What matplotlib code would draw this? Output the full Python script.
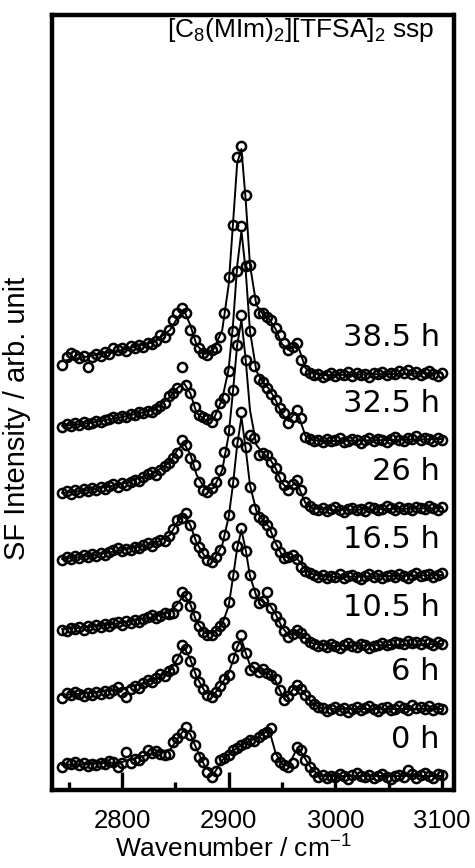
import numpy as np
import matplotlib
matplotlib.use("Agg")
import matplotlib.pyplot as plt
from matplotlib.ticker import MultipleLocator

plt.rcParams["font.family"] = ["Liberation Sans", "DejaVu Sans"]
plt.rcParams["mathtext.fontset"] = "custom"
plt.rcParams["mathtext.rm"] = "Liberation Sans"
plt.rcParams["mathtext.it"] = "Liberation Sans:italic"

# measured points, one every 4 cm-1 from 2744 to 3100
wavenumber = np.arange(2744, 3101, 4)

labels = ["0 h", "6 h", "10.5 h", "16.5 h", "26 h", "32.5 h", "38.5 h"]
offsets = [13, 81, 144, 213, 280, 349, 415]

sig_0h = [10, 14, 13, 15, 12, 14, 11, 13, 12, 14,
          13, 16, 15, 10, 14, 25, 14, 18, 17, 21,
          27, 24, 26, 23, 22, 23, 35, 39, 44, 50,
          42, 32, 20, 15, 5, 0, 6, 17, 19, 22,
          27, 29, 32, 34, 37, 36, 40, 43, 45, 49,
          20, 15, 12, 10, 14, 30, 27, 17, 10, 5,
          0, 2, -1, 1, 0, 3, 1, -2, 2, 4,
          1, 0, 2, -1, 1, 3, 0, -2, 1, 2,
          0, 7, 3, -1, 2, 4, 1, -1, 3, 2]
sig_6h = [11, 16, 14, 17, 15, 13, 16, 14, 17, 15,
          18, 16, 19, 22, 17, 12, 20, 23, 21, 26,
          29, 27, 31, 35, 33, 38, 40, 50, 64, 60,
          48, 36, 27, 20, 14, 12, 17, 23, 30, 34,
          51, 63, 74, 56, 39, 42, 37, 40, 36, 34,
          30, 19, 9, 13, 19, 24, 20, 14, 9, 5,
          2, 1, -2, 0, 2, -1, 1, -3, 0, 2,
          -1, 1, 3, 0, -2, 1, 2, -1, 0, 3,
          1, -1, 4, 1, 2, 0, 3, -1, 1, 0]
sig_10h = [16, 15, 18, 17, 19, 16, 20, 18, 21, 19,
           22, 20, 23, 24, 21, 25, 23, 26, 24, 27,
           29, 31, 28, 30, 33, 32, 33, 40, 54, 50,
           40, 30, 20, 14, 11, 11, 15, 20, 24, 44,
           71, 100, 118, 95, 71, 53, 43, 45, 54, 38,
           30, 24, 15, 9, 12, 16, 13, 8, 4, 2,
           0, 1, -1, 2, 0, -2, 1, 3, 0, -1,
           2, 1, -2, 0, 1, 3, 1, 2, 4, 3,
           2, 5, 3, 4, 2, 5, 3, 1, 4, 2]
sig_16h = [17, 20, 18, 21, 19, 22, 20, 23, 21, 24,
           22, 25, 27, 29, 26, 28, 27, 30, 29, 32,
           34, 31, 35, 37, 36, 41, 48, 57, 59, 64,
           52, 38, 30, 24, 17, 15, 20, 27, 42, 62,
           95, 135, 165, 130, 90, 68, 60, 57, 52, 45,
           32, 25, 19, 20, 22, 18, 10, 6, 4, 2,
           0, 2, -1, 1, 0, 3, -1, 1, 2, 0,
           -2, 1, 3, 0, 2, -1, 1, 2, 0, 3,
           1, -1, 2, 4, 1, 2, 3, 0, 2, 4]
sig_26h = [17, 19, 16, 20, 18, 21, 19, 22, 20, 23,
           21, 24, 26, 23, 27, 25, 28, 30, 29, 33,
           36, 38, 35, 40, 44, 47, 52, 57, 70, 65,
           52, 45, 28, 20, 18, 22, 28, 40, 58, 80,
           120, 165, 195, 150, 75, 72, 55, 57, 55, 48,
           42, 33, 25, 20, 26, 30, 20, 8, 4, 1,
           0, 2, -1, 1, 3, 0, -2, 1, 2, 0,
           1, -1, 3, 2, 0, 1, 4, 2, 0, 3,
           1, 2, 0, 3, 2, 1, 4, 2, 0, 3]
sig_32h = [14, 17, 15, 18, 16, 19, 17, 18, 20, 19,
           21, 22, 24, 23, 25, 24, 27, 26, 29, 28,
           30, 29, 32, 35, 38, 45, 48, 53, 74, 56,
           48, 34, 26, 24, 22, 19, 26, 38, 43, 70,
           110, 170, 215, 175, 110, 75, 62, 59, 53, 47,
           41, 33, 28, 18, 24, 31, 23, 4, 2, 0,
           1, -1, 2, 0, 1, 3, -1, 0, 2, 1,
           -2, 1, 3, 0, 2, 1, -1, 2, 4, 1,
           0, 3, 2, 5, 1, 3, 2, 0, 3, 1]
sig_38h = [10, 18, 22, 20, 17, 19, 8, 18, 21, 19,
           23, 21, 27, 25, 27, 24, 29, 27, 30, 28,
           32, 31, 34, 40, 38, 45, 55, 62, 67, 62,
           45, 35, 27, 22, 20, 25, 27, 38, 62, 98,
           150, 218, 229, 180, 110, 75, 62, 62, 58, 55,
           47, 40, 32, 25, 28, 32, 15, 5, 2, 0,
           1, -2, 0, 2, -1, 1, 0, 3, -1, 2,
           0, 1, -2, 2, 1, 3, 0, 2, 1, 4,
           2, 5, 1, 3, 0, 2, 4, 1, -1, 2]

# fitted curves
fit_x = [2744, 2770, 2800, 2830, 2845, 2852, 2858, 2864, 2870, 2878, 2886,
         2894, 2900, 2904, 2908, 2912, 2916, 2920, 2926, 2932, 2938, 2944,
         2950, 2956, 2962, 2966, 2972, 2978, 2986, 3000, 3050, 3100]
fit_0h = [12, 13, 15, 24, 27, 38, 47, 43, 28, 10, 3,
          17, 22, 26, 29, 32, 34, 36, 39, 43, 47, 24,
          13, 11, 24, 28, 18, 8, 1, 1, 1, 1]
fit_6h = [14, 16, 20, 29, 38, 50, 62, 50, 32, 17, 14,
          26, 36, 48, 62, 70, 56, 44, 39, 38, 35, 28,
          14, 14, 22, 22, 14, 6, 1, 0, 0, 0]
fit_10h = [17, 19, 23, 29, 34, 42, 51, 42, 24, 13, 13,
           22, 40, 68, 98, 116, 96, 70, 50, 44, 42, 32,
           19, 11, 14, 14, 8, 3, 1, 0, 1, 2]
fit_16h = [18, 21, 27, 33, 42, 55, 63, 52, 34, 20, 17,
           32, 60, 92, 132, 160, 128, 92, 66, 57, 50, 34,
           22, 19, 21, 16, 7, 3, 1, 0, 1, 2]
fit_26h = [17, 20, 26, 37, 48, 60, 67, 56, 35, 21, 22,
           40, 75, 118, 165, 190, 150, 100, 65, 57, 52, 42,
           27, 21, 27, 22, 7, 2, 1, 0, 1, 2]
fit_32h = [15, 18, 24, 31, 44, 53, 58, 48, 28, 21, 22,
           42, 72, 115, 175, 210, 170, 110, 70, 59, 52, 41,
           27, 20, 28, 24, 5, 1, 0, 0, 1, 2]
fit_38h = [14, 19, 25, 33, 45, 57, 65, 50, 30, 21, 26,
           45, 90, 150, 212, 226, 175, 110, 70, 61, 56, 46,
           31, 25, 30, 26, 7, 2, 0, 0, 1, 2]

signals = [sig_0h, sig_6h, sig_10h, sig_16h, sig_26h, sig_32h, sig_38h]
fits = [fit_0h, fit_6h, fit_10h, fit_16h, fit_26h, fit_32h, fit_38h]

fig = plt.figure(figsize=(4.75, 8.68), dpi=100)
ax = fig.add_axes([52 / 475, 78 / 868, 401.5 / 475, 775.5 / 868])

for lab, off, sig, fit in zip(labels, offsets, signals, fits):
    ax.plot(fit_x, np.array(fit) + off, color="black", lw=1.4, zorder=2)
    ax.plot(wavenumber, np.array(sig) + off, "o", mfc="none", mec="black",
            ms=6.6, mew=1.8, zorder=3)
    ax.text(3098, off + 38, lab, ha="right", va="center", fontsize=22,
            family="DejaVu Sans")

ax.text(3093, 760, r"[C$_8$(MIm)$_2$][TFSA]$_2$ ssp", ha="right",
        va="center", fontsize=19)

ax.set_xlim(2734.4, 3110.8)
ax.set_ylim(0, 775.5)
ax.set_xticks([2800, 2900, 3000, 3100])
ax.xaxis.set_minor_locator(MultipleLocator(50))
ax.set_yticks([])
ax.tick_params(axis="x", which="major", direction="in", length=13, width=2.4,
               labelsize=18.5, pad=14)
ax.tick_params(axis="x", which="minor", direction="in", length=6, width=2.4)
for sp in ax.spines.values():
    sp.set_linewidth(3.2)

ax.set_xlabel(r"Wavenumber / cm$^{-1}$", fontsize=19)
ax.xaxis.set_label_coords(0.451, -0.058)
ax.set_ylabel("SF Intensity / arb. unit", fontsize=21)
ax.yaxis.set_label_coords(-0.052, 0.479)

fig.savefig("out.png", dpi=100)
